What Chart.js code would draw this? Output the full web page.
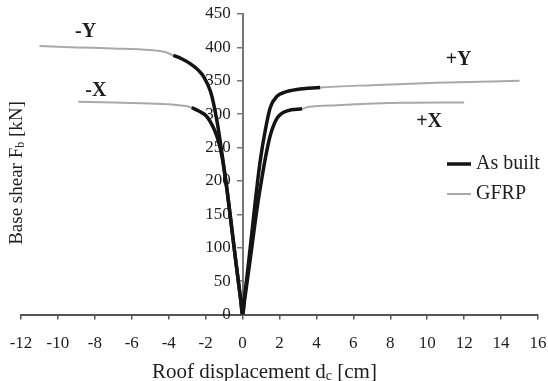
<!DOCTYPE html>
<html>
<head>
<meta charset="utf-8">
<script src="https://cdn.jsdelivr.net/npm/chart.js@4.4.1/dist/chart.umd.min.js"></script>
<style>
  html, body { margin: 0; padding: 0; background: #fff; }
  #wrap { width: 548px; height: 381px; }
</style>
</head>
<body>
<div id="wrap"><canvas id="chart"></canvas></div>
<script>
// roof displacement [cm] / base shear [kN]

// Y direction, as built
var asBuiltYDisp  = [-3.75, -3.3, -2.8, -2.4, -2.1, -1.75, -1.57, -1.35, -1.11, -0.84, -0.66, -0.35, -0.1, 0, 0.1, 0.3, 0.51, 0.69, 0.96, 1.23, 1.5, 1.87, 2.3, 2.95, 4.2];
var asBuiltYShear = [388, 383, 375, 366, 356, 335, 316, 284, 240, 186, 146, 76, 22, 0, 25, 72, 124, 170, 231, 276, 310, 327, 333, 337, 340];

// Y direction, GFRP (goes further on both sides)
var gfrpYDisp  = [-11, -9, -7, -5, -4.2].concat(asBuiltYDisp, [7, 10.5, 15]);
var gfrpYShear = [402, 400, 398.5, 396, 393].concat(asBuiltYShear, [343.5, 347, 350]);

// X direction, as built
var asBuiltXDisp  = [-2.75, -2.4, -1.92, -1.38, -1.11, -0.84, -0.66, -0.35, -0.1, 0, 0.1, 0.4, 0.8, 1.05, 1.24, 1.5, 1.87, 2.41, 3.22];
var asBuiltXShear = [310, 305, 296, 266, 236, 186, 146, 76, 22, 0, 20, 80, 162, 205, 235, 268, 294, 305, 308];

// X direction, GFRP
var gfrpXDisp  = [-8.9, -7, -5, -4, -3.2].concat(asBuiltXDisp, [3.6, 5.1, 8.7, 12]);
var gfrpXShear = [318.5, 317.5, 316, 315, 312.5].concat(asBuiltXShear, [311, 313.5, 317, 317.5]);

// curve labels and where they sit
var curveLabels = ['-Y', '-X', '+Y', '+X'];
var labelDisp   = [-8.5, -7.95, 11.7, 10.1];
var labelShear  = [423, 335, 381, 288];

var legendLabels = ['As built', 'GFRP'];

var textColor = '#1e1e1e';
var axisColor = '#555555';
var serif = '"Liberation Serif", "Times New Roman", serif';

function toPoints(xs, ys) {
    var pts = [];
    for (var i = 0; i < xs.length; i++) pts.push({ x: xs[i], y: ys[i] });
    return pts;
}

function lineSet(label, xs, ys, color, width) {
    return {
        label: label,
        data: toPoints(xs, ys),
        borderColor: color,
        borderWidth: width,
        pointRadius: 0,
        fill: false,
        cubicInterpolationMode: 'monotone'
    };
}

// draw text made of pieces, some of them as subscripts, centred on x
function drawPieces(ctx, pieces, x, y, size) {
    var total = 0;
    pieces.forEach(function (p) {
        ctx.font = (p[1] ? Math.round(size * 0.65) : size) + 'px ' + serif;
        p.w = ctx.measureText(p[0]).width;
        total += p.w;
    });
    var cx = x - total / 2;
    ctx.textAlign = 'left';
    pieces.forEach(function (p) {
        ctx.font = (p[1] ? Math.round(size * 0.65) : size) + 'px ' + serif;
        ctx.fillText(p[0], cx, p[1] ? y + size * 0.22 : y);
        cx += p.w;
    });
}

var annotate = {
    id: 'annotate',
    afterDraw: function (chart) {
        var ctx = chart.ctx;
        var xs = chart.scales.x, ys = chart.scales.y;
        var area = chart.chartArea;
        ctx.save();
        ctx.fillStyle = textColor;
        ctx.textBaseline = 'middle';

        // -Y, -X, +Y, +X
        ctx.textAlign = 'center';
        ctx.font = 'bold 20px ' + serif;
        for (var i = 0; i < curveLabels.length; i++) {
            ctx.fillText(curveLabels[i], xs.getPixelForValue(labelDisp[i]), ys.getPixelForValue(labelShear[i]));
        }

        // legend inside the plot
        var lx = area.right - 91, ly = area.top + 150;
        var colors = ['#141414', '#a9a9a9'], widths = [3.5, 2];
        for (var j = 0; j < legendLabels.length; j++) {
            var y = ly + j * 30;
            ctx.strokeStyle = colors[j];
            ctx.lineWidth = widths[j];
            ctx.beginPath();
            ctx.moveTo(lx, y);
            ctx.lineTo(lx + 24, y);
            ctx.stroke();
            ctx.textAlign = 'left';
            ctx.font = '20px ' + serif;
            ctx.fillText(legendLabels[j], lx + 29, y);
        }

        // axis titles
        drawPieces(ctx, [['Roof displacement d', false], ['c', true], [' [cm]', false]],
            (area.left + area.right) / 2 - 15, chart.height - 9, 21);
        ctx.translate(17, 173);
        ctx.rotate(-Math.PI / 2);
        drawPieces(ctx, [['Base shear F', false], ['b', true], [' [kN]', false]], 0, 0, 19);
        ctx.restore();
    }
};

var ctx = document.getElementById('chart').getContext('2d');
new Chart(ctx, {
    type: 'line',
    data: {
        datasets: [
            lineSet('As built', asBuiltYDisp, asBuiltYShear, '#141414', 3.5),
            lineSet('As built', asBuiltXDisp, asBuiltXShear, '#141414', 3.5),
            lineSet('GFRP', gfrpYDisp, gfrpYShear, '#a9a9a9', 2),
            lineSet('GFRP', gfrpXDisp, gfrpXShear, '#a9a9a9', 2)
        ]
    },
    options: {
        responsive: true,
        maintainAspectRatio: false,
        animation: false,
        layout: { padding: { left: 21, right: 10, top: 14, bottom: 13 } },
        plugins: {
            legend: { display: false },
            tooltip: { enabled: false },
            title: { display: false }
        },
        scales: {
            x: {
                type: 'linear',
                min: -12,
                max: 16,
                // end labels may hang over the padding, don't shrink the plot for them
                afterFit: function (scale) { scale.paddingLeft = 0; scale.paddingRight = 0; },
                ticks: {
                    stepSize: 2,
                    color: textColor,
                    padding: 14,
                    font: { family: serif, size: 17 },
                    maxRotation: 0
                },
                grid: { drawOnChartArea: false, tickLength: 5, color: axisColor, lineWidth: 1.5 },
                border: { color: axisColor, width: 2 }
            },
            y: {
                type: 'linear',
                position: { x: 0 },
                min: 0,
                max: 450,
                // the axis sits at x = 0, keep it from eating chart width
                afterFit: function (scale) { scale.width = 0; },
                ticks: {
                    stepSize: 50,
                    color: textColor,
                    padding: 3,
                    font: { family: serif, size: 17 },
                    callback: function (value) { return value + '\u2002\u2009'; }
                },
                grid: { drawOnChartArea: false, tickLength: 5, color: '#777777', lineWidth: 1.5 },
                border: { color: '#777777', width: 2 }
            }
        }
    },
    plugins: [annotate]
});
</script>
</body>
</html>
